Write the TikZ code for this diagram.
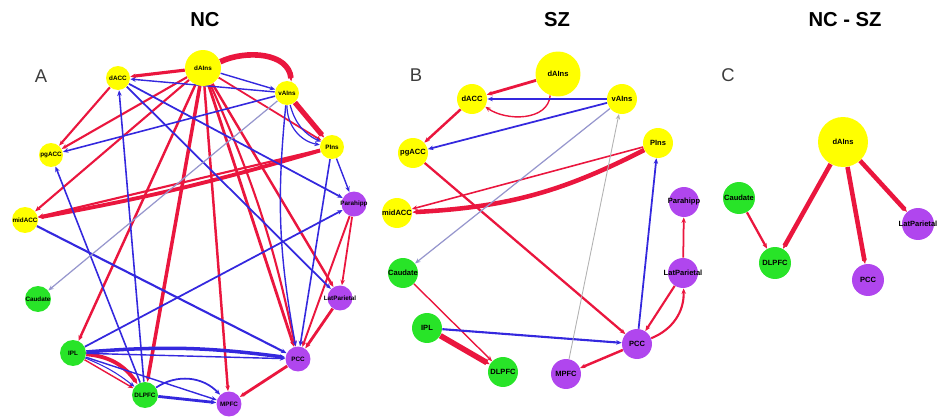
\documentclass[tikz,border=0pt]{standalone}
\usepackage{fontspec}
\setmainfont{Liberation Sans}
\usetikzlibrary{arrows.meta}
\pgfdeclarelayer{bg}
\pgfsetlayers{bg,main}
\definecolor{nodeyel}{RGB}{255,255,0}
\definecolor{nodegrn}{RGB}{40,228,40}
\definecolor{nodepur}{RGB}{176,70,238}
\definecolor{edgered}{RGB}{234,22,62}
\definecolor{edgeblu}{RGB}{52,40,222}
\definecolor{edgegry}{RGB}{150,150,205}
\definecolor{lettergry}{RGB}{60,60,60}

\begin{document}
\begin{tikzpicture}[
    x=0.02cm, y=-0.02cm,
    roi/.style={circle, inner sep=0pt},
    ynode/.style={roi, fill=nodeyel},
    gnode/.style={roi, fill=nodegrn},
    pnode/.style={roi, fill=nodepur},
    labA/.style={font=\fontsize{3.6}{4}\selectfont\bfseries, inner sep=0pt},
    labB/.style={font=\fontsize{4.3}{5}\selectfont\bfseries, inner sep=0pt},
    redge/.style={-{Stealth[length=1.1mm,width=0.9mm]}, draw=edgered},
    bedge/.style={-{Stealth[length=1.1mm,width=0.9mm]}, draw=edgeblu},
    gedge/.style={-{Stealth[length=1.1mm,width=0.9mm]}, draw=edgegry},
    ttl/.style={font=\bfseries\fontsize{11.5}{12}\selectfont},
    plbl/.style={font=\fontsize{10.5}{11}\selectfont, text=lettergry},
]
\useasboundingbox (0,0) rectangle (938,419);

% --- titles and panel letters ---
\node[ttl] (tNC) at (205,20) {NC};
\node[ttl] (tSZ) at (557,20) {SZ};
\node[ttl] (tDiff) at (845,20) {NC - SZ};
\node[plbl] (lA) at (41,76) {A};
\node[plbl] (lB) at (416,75) {B};
\node[plbl] (lC) at (728,75) {C};

% --- panel A: NC ---
\foreach \n/\x/\y/\d in {dAIns/203/68/0.72, dACC/118/78/0.48, vAIns/287/93/0.48,
    pgACC/51/155/0.48, PIns/332/147/0.48, midACC/25/220/0.52}
  \node[ynode, minimum size=\d cm, label={[labA]center:\n}] (A-\n) at (\x,\y) {};
\foreach \n/\x/\y in {Caudate/38/299, IPL/73/353, DLPFC/145/395}
  \node[gnode, minimum size=0.52cm, label={[labA]center:\n}] (A-\n) at (\x,\y) {};
\foreach \n/\x/\y in {Parahipp/354/204, LatParietal/340/298, PCC/298/359, MPFC/229/404}
  \node[pnode, minimum size=0.5cm, label={[labA]center:\n}] (A-\n) at (\x,\y) {};

\begin{pgfonlayer}{bg}
\foreach \a/\b/\w in {dAIns/dACC/1.8, dAIns/pgACC/1.2, dAIns/midACC/1.2, dAIns/IPL/1.4,
    dAIns/DLPFC/2.0, dAIns/MPFC/1.4, dAIns/PCC/1.6, dAIns/LatParietal/1.4, dAIns/PIns/1.0,
    dACC/pgACC/1.2, PIns/midACC/1.2, Parahipp/PCC/1.1, Parahipp/LatParietal/1.0,
    LatParietal/PCC/1.6, PCC/MPFC/1.6, IPL/DLPFC/0.8}
  \draw[redge, line width=\w pt] (A-\a) -- (A-\b);
\draw[redge, line width=2.2pt] (A-PIns) to[bend left=3] (A-midACC);
\draw[redge, line width=1.2pt] (A-dAIns) to[bend left=6] (A-PCC);
\draw[redge, line width=3.2pt] (A-dAIns.20) to[out=25,in=95] (A-vAIns.70);
\draw[redge, line width=3pt] (A-vAIns) -- (A-PIns);
\draw[redge, line width=2.2pt] (A-IPL) to[bend left=25] (A-DLPFC);
\foreach \a/\b/\w in {dAIns/vAIns/0.8, vAIns/dACC/0.8, vAIns/pgACC/0.9, dACC/Parahipp/1.0,
    dACC/LatParietal/1.0, DLPFC/dACC/0.9, DLPFC/pgACC/0.9, midACC/PCC/1.2, IPL/Parahipp/1.0,
    IPL/PCC/0.8, IPL/MPFC/0.8, DLPFC/MPFC/1.6, PIns/Parahipp/0.8, PIns/PCC/0.9}
  \draw[bedge, line width=\w pt] (A-\a) -- (A-\b);
\draw[gedge, line width=0.7pt] (A-vAIns) -- (A-Caudate);
\draw[bedge, line width=0.8pt] (A-vAIns) to[bend right=8] (A-PCC);
\draw[bedge, line width=0.7pt] (A-vAIns) to[bend right=25] (A-PIns);
\draw[bedge, line width=0.7pt] (A-vAIns) to[bend right=40] (A-PIns);
\draw[bedge, line width=2.0pt] (A-IPL) to[bend left=6] (A-PCC);
\draw[bedge, line width=0.6pt] (A-IPL) to[bend left=8] (A-DLPFC);
\draw[bedge, line width=1.0pt] (A-DLPFC) to[bend left=40] (A-MPFC);
\end{pgfonlayer}

% --- panel B: SZ ---
\foreach \n/\x/\y/\d in {dAIns/558/74/0.9, dACC/472/99/0.6, vAIns/622/99/0.6,
    pgACC/413/153/0.6, PIns/658/143/0.6, midACC/397/213/0.6}
  \node[ynode, minimum size=\d cm, label={[labB]center:\n}] (B-\n) at (\x,\y) {};
\foreach \n/\x/\y in {Caudate/403/273, IPL/427/328, DLPFC/503/372}
  \node[gnode, minimum size=0.6cm, label={[labB]center:\n}] (B-\n) at (\x,\y) {};
\foreach \n/\x/\y in {Parahipp/684/202, LatParietal/683/273, PCC/637/344, MPFC/566/374}
  \node[pnode, minimum size=0.6cm, label={[labB]center:\n}] (B-\n) at (\x,\y) {};

\begin{pgfonlayer}{bg}
\foreach \a/\b/\w in {dAIns/dACC/1.6, dACC/pgACC/1.4, PIns/midACC/0.9, pgACC/PCC/1.3,
    LatParietal/Parahipp/1.0, LatParietal/PCC/1.2, PCC/MPFC/1.4, Caudate/DLPFC/0.8}
  \draw[redge, line width=\w pt] (B-\a) -- (B-\b);
\draw[redge, line width=0.8pt] (B-dAIns.250) to[out=-95,in=-35] (B-dACC.-30);
\draw[redge, line width=2.6pt] (B-PIns) to[bend left=12] (B-midACC);
\draw[redge, line width=1.2pt] (B-PCC) to[bend right=35] (B-LatParietal);
\draw[redge, line width=3.2pt] (B-IPL) -- (B-DLPFC);
\foreach \a/\b/\w in {vAIns/dACC/0.8, vAIns/pgACC/1.0, PCC/PIns/1.0, IPL/PCC/1.2}
  \draw[bedge, line width=\w pt] (B-\a) -- (B-\b);
\draw[gedge, line width=0.7pt] (B-vAIns) -- (B-Caudate);
\draw[gedge, line width=0.5pt, draw=gray!60] (B-MPFC) -- (B-vAIns);
\end{pgfonlayer}

% --- panel C: NC - SZ ---
\node[ynode, minimum size=1.0cm, label={[labB]center:dAIns}] (C-dAIns) at (843,142) {};
\node[gnode, minimum size=0.64cm, label={[labB]center:Caudate}] (C-Caudate) at (739,198) {};
\node[gnode, minimum size=0.64cm, label={[labB]center:DLPFC}] (C-DLPFC) at (775,263) {};
\node[pnode, minimum size=0.64cm, label={[labB]center:PCC}] (C-PCC) at (868,280) {};
\node[pnode, minimum size=0.64cm, label={[labB]center:LatParietal}] (C-LatParietal) at (918,224) {};

\begin{pgfonlayer}{bg}
\foreach \b in {DLPFC,PCC,LatParietal}
  \draw[redge, line width=2.6pt] (C-dAIns) -- (C-\b);
\draw[redge, line width=1.3pt] (C-Caudate) -- (C-DLPFC);
\end{pgfonlayer}
\end{tikzpicture}
\end{document}
